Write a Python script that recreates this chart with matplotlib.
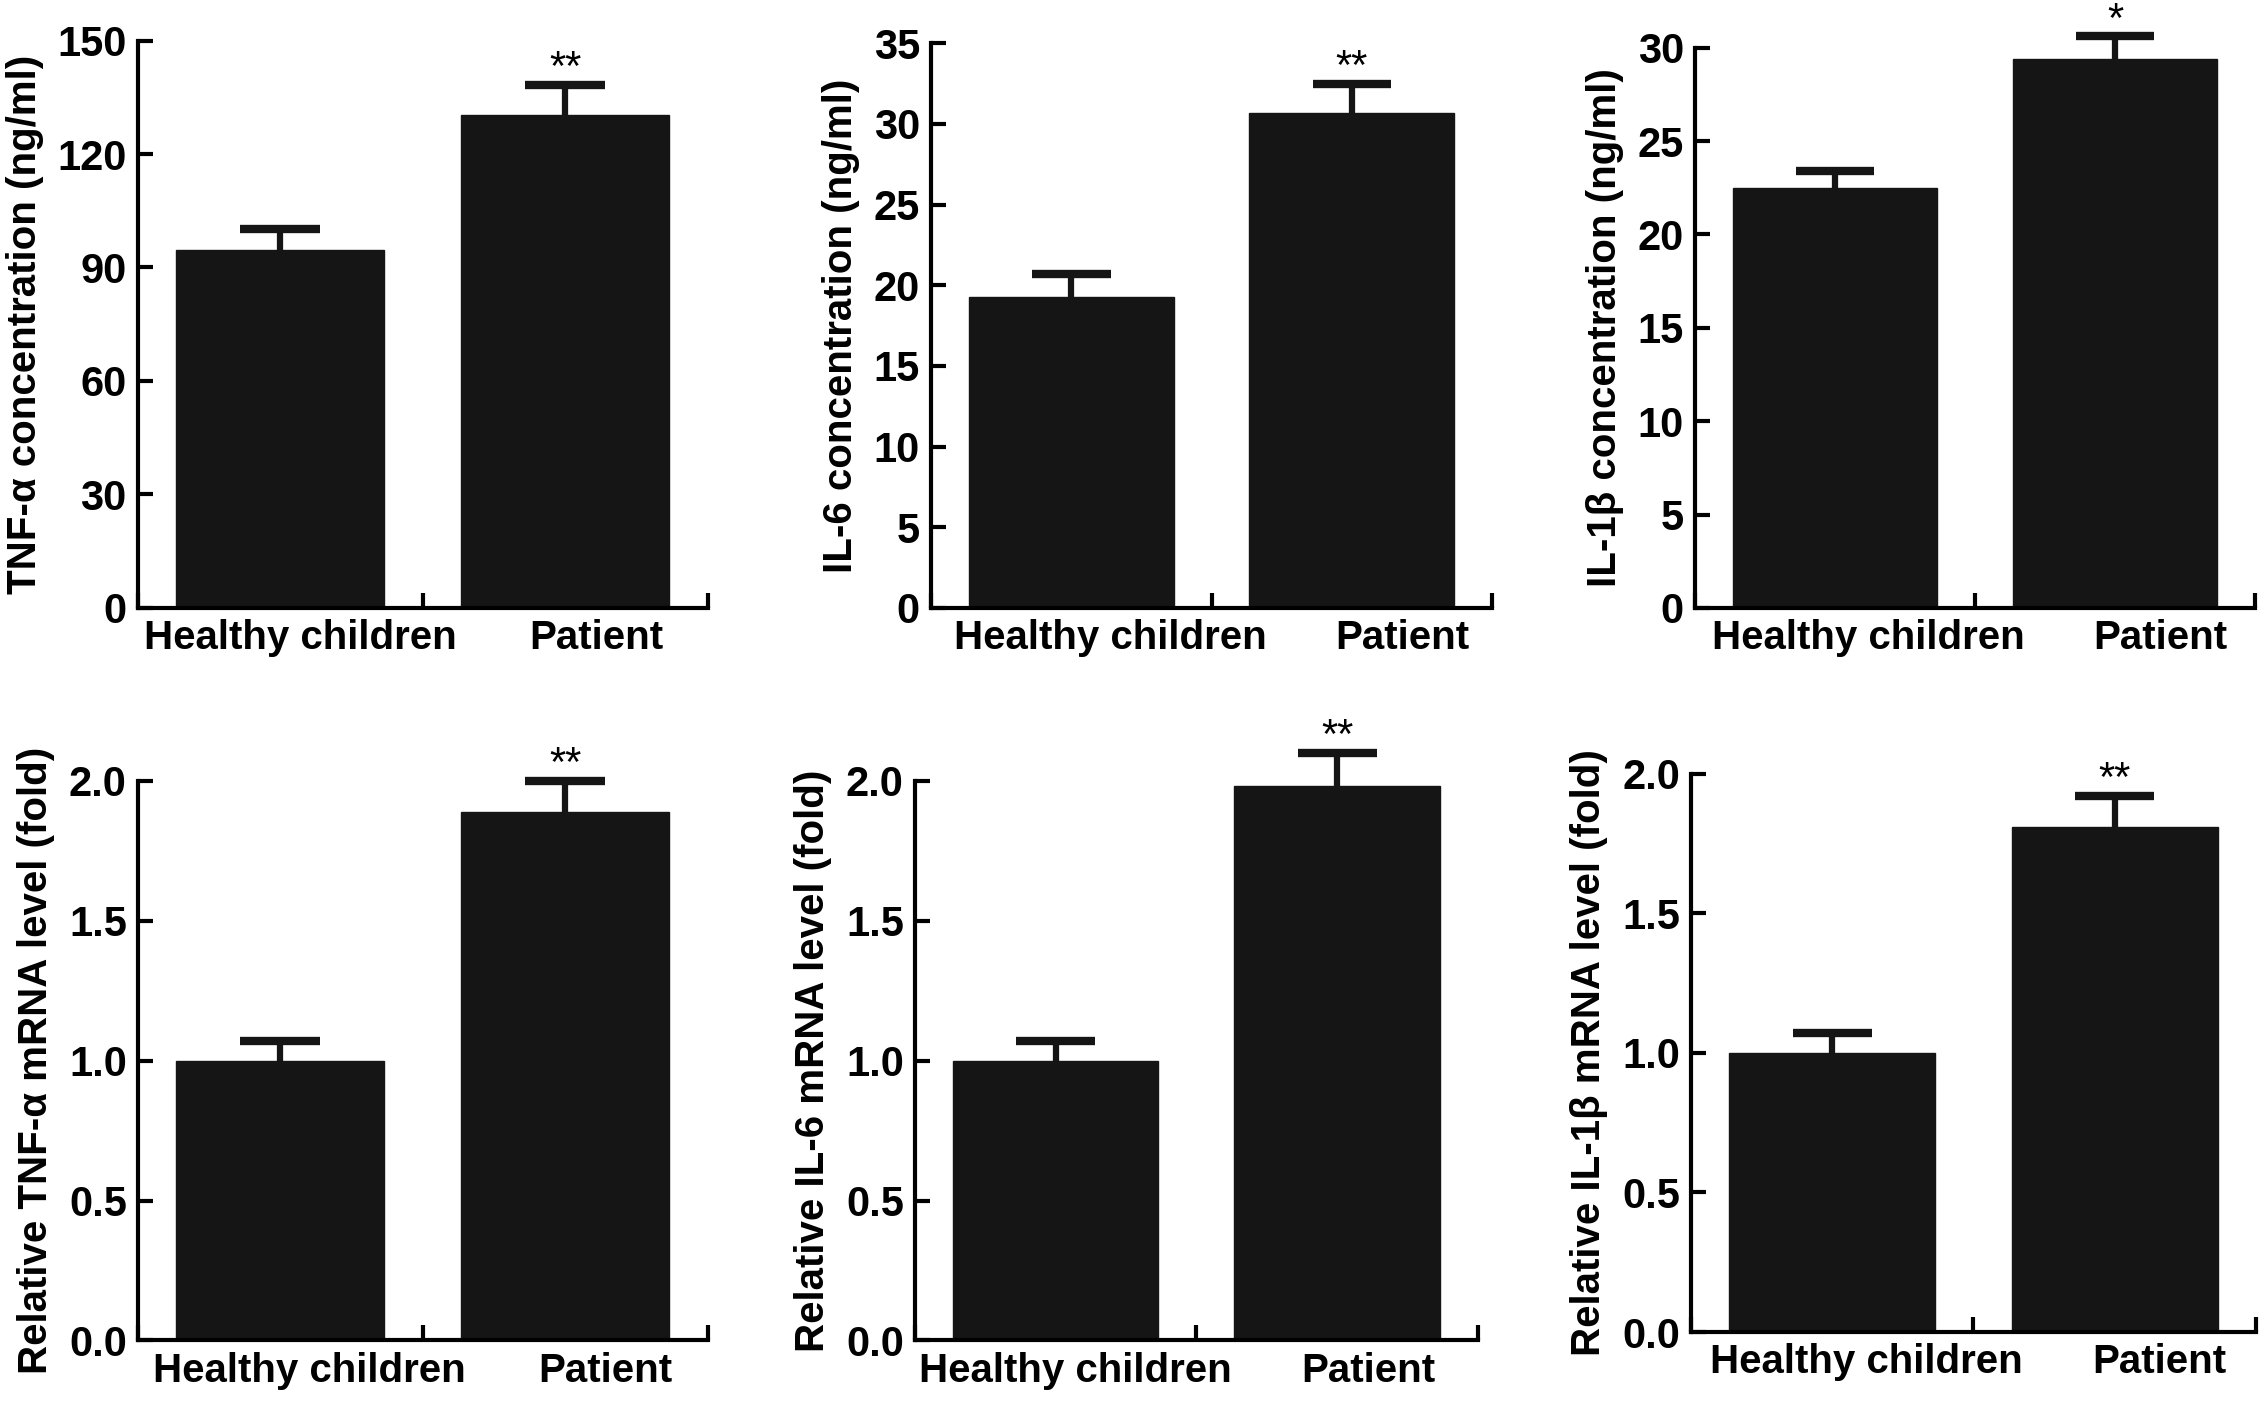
import matplotlib.pyplot as plt
import numpy as np

plt.rcParams['font.family'] = ['Liberation Sans', 'DejaVu Sans']
plt.rcParams['font.weight'] = 'bold'
plt.rcParams['axes.labelweight'] = 'bold'

grupos = ["Healthy children", "Patient"]

# valores (média e tamanho da barra de erro)
tnf_conc = [94.5, 130.2]
tnf_conc_err = [5.8, 8.0]
il6_conc = [19.3, 30.7]
il6_conc_err = [1.4, 1.8]
il1b_conc = [22.5, 29.4]
il1b_conc_err = [0.9, 1.2]
tnf_mrna = [1.0, 1.89]
tnf_mrna_err = [0.07, 0.11]
il6_mrna = [1.0, 1.98]
il6_mrna_err = [0.07, 0.12]
il1b_mrna = [1.0, 1.81]
il1b_mrna_err = [0.07, 0.11]

significancia = ["**", "**", "*", "**", "**", "**"]

paineis = [
    (tnf_conc, tnf_conc_err, "TNF-α concentration (ng/ml)", np.arange(0, 151, 30)),
    (il6_conc, il6_conc_err, "IL-6 concentration (ng/ml)", np.arange(0, 36, 5)),
    (il1b_conc, il1b_conc_err, "IL-1β concentration (ng/ml)", np.arange(0, 31, 5)),
    (tnf_mrna, tnf_mrna_err, "Relative TNF-α mRNA level (fold)", np.arange(0, 2.01, 0.5)),
    (il6_mrna, il6_mrna_err, "Relative IL-6 mRNA level (fold)", np.arange(0, 2.01, 0.5)),
    (il1b_mrna, il1b_mrna_err, "Relative IL-1β mRNA level (fold)", np.arange(0, 2.01, 0.5)),
]

# posições dos eixos em fração da figura [esq, baixo, larg, alt]
posicoes = [
    [0.0608, 0.5679, 0.2513, 0.4033],
    [0.4105, 0.5679, 0.2474, 0.4013],
    [0.7474, 0.5679, 0.2469, 0.3982],
    [0.0608, 0.0473, 0.2513, 0.3977],
    [0.4034, 0.0473, 0.2482, 0.3977],
    [0.7456, 0.0533, 0.2490, 0.3967],
]
# deslocamento dos rótulos do eixo x (em unidades de categoria)
desloc_rotulos = [0.0, 0.07, 0.05, 0.03, 0.0, 0.05]

fig = plt.figure(figsize=(22.68, 14.07), dpi=100)
cor = "#151515"
x = np.array([0.5, 1.5])
x_rotulos = np.array([0.57, 1.61])
larg_cap = 0.28

for k, (vals, errs, rotulo, yt) in enumerate(paineis):
    ax = fig.add_axes(posicoes[k])
    vals = np.array(vals)
    errs = np.array(errs)
    ax.bar(x, vals, width=0.73, color=cor, edgecolor=cor)
    # só a metade de cima da barra de erro
    ax.errorbar(x, vals, yerr=[np.zeros(2), errs], fmt='none', ecolor=cor,
                elinewidth=4.5, capsize=0, clip_on=False)
    ax.hlines(vals + errs, x - larg_cap / 2, x + larg_cap / 2, colors=cor,
              linewidth=6, clip_on=False)
    ax.annotate(significancia[k], (x[1], vals[1] + errs[1]), xytext=(0, -3),
                textcoords='offset points', ha='center', va='bottom',
                fontsize=30, fontweight='normal', annotation_clip=False)
    ax.set_xlim(0, 2)
    ax.set_ylim(0, yt[-1])
    ax.set_yticks(yt)
    if yt[-1] < 5:
        ax.set_yticklabels([f"{v:.1f}" for v in yt])
    else:
        ax.set_yticklabels([f"{v:g}" for v in yt])
    ax.set_xticks([0, 1, 2])
    ax.set_xticklabels([])
    ax.set_xticks(x_rotulos + desloc_rotulos[k], minor=True)
    ax.set_xticklabels(grupos, minor=True)
    ax.tick_params(axis='x', which='minor', length=0, pad=8, labelsize=29)
    ax.tick_params(axis='both', which='major', direction='in', length=11, width=3,
                   labelsize=30, pad=8)
    ax.set_ylabel(rotulo, fontsize=29, labelpad=10)
    for lado in ['top', 'right']:
        ax.spines[lado].set_visible(False)
    for lado in ['left', 'bottom']:
        ax.spines[lado].set_linewidth(3)

plt.savefig("out.png", dpi=100)
